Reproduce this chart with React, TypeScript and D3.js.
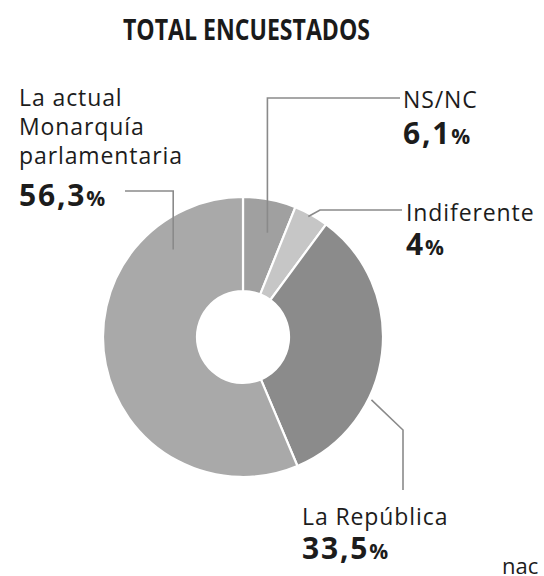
import { useEffect, useRef } from 'react'
import * as d3 from 'd3'

// Survey answers, clockwise from 12 o'clock
const categories = ['NS/NC', 'Indiferente', 'La República', 'La actual Monarquía parlamentaria']
const values = [6.1, 4, 33.5, 56.3]
const valueLabels = ['6,1', '4', '33,5', '56,3']
const labelLines = [['NS/NC'], ['Indiferente'], ['La República'], ['La actual', 'Monarquía', 'parlamentaria']]
const colors = ['#a0a0a0', '#c6c6c6', '#8b8b8b', '#a9a9a9']

const title = 'TOTAL ENCUESTADOS'

export default function App() {
  const svgRef = useRef<SVGSVGElement>(null)

  useEffect(() => {
    if (!svgRef.current) return
    const width = 544
    const height = 576
    const cx = 243
    const cy = 337
    const outerR = 140
    const innerR = 46

    const svg = d3.select(svgRef.current)
      .attr('viewBox', [0, 0, width, height])
      .attr('width', width)
      .attr('height', height)

    svg.selectAll('*').remove()

    svg.append('rect').attr('width', width).attr('height', height).attr('fill', '#fff')

    // Title
    svg.append('text')
      .attr('x', 123)
      .attr('y', 40)
      .attr('textLength', 247)
      .attr('lengthAdjust', 'spacingAndGlyphs')
      .style('font', 'bold 29px "Open Sans", sans-serif')
      .style('fill', '#1a1a1a')
      .text(title)

    const data = categories.map((c, i) => ({ name: c, value: values[i], i }))
    const pie = d3.pie<{ name: string; value: number; i: number }>()
      .sort(null)
      .value(d => d.value)
      .startAngle(0)
      .endAngle(2 * Math.PI)
    const arcs = pie(data)

    const arc = d3.arc<d3.PieArcDatum<{ name: string; value: number; i: number }>>()
      .innerRadius(innerR)
      .outerRadius(outerR)

    const g = svg.append('g').attr('transform', `translate(${cx},${cy})`)
    g.selectAll('path')
      .data(arcs)
      .join('path')
      .attr('d', arc)
      .attr('fill', d => colors[d.data.i])
      .attr('stroke', '#fff')
      .attr('stroke-width', 2.2)

    // polar helper: angle fraction within the slice, radius
    const polar = (k: number, f: number, r: number): [number, number] => {
      const a = arcs[k].startAngle + f * (arcs[k].endAngle - arcs[k].startAngle)
      return [cx + r * Math.sin(a), cy - r * Math.cos(a)]
    }

    const line = d3.line()
    const leaders: [number, number][][] = []
    // NS/NC
    const p0 = polar(0, 0.6, 107)
    leaders.push([p0, [p0[0], 98], [400, 98]])
    // Indiferente
    const p1 = polar(1, 0.45, 137)
    leaders.push([p1, [320, 210], [402, 210]])
    // República
    const p2 = polar(2, 0.66, 143)
    leaders.push([p2, [403, 430], [403, 490]])
    // Monarquía
    const p3 = polar(3, 0.81, 112)
    leaders.push([p3, [p3[0], 191], [125, 191]])

    svg.append('g')
      .selectAll('path')
      .data(leaders)
      .join('path')
      .attr('d', d => line(d))
      .attr('fill', 'none')
      .attr('stroke', '#8a8a8a')
      .attr('stroke-width', 1.6)

    // Labels
    const labelPos: { x: number; y: number[]; py: number }[] = [
      { x: 403, y: [108], py: 144 },
      { x: 406, y: [221], py: 255 },
      { x: 302, y: [525], py: 559 },
      { x: 19, y: [106, 135, 164], py: 206 },
    ]

    const labels = svg.append('g').style('fill', '#1c1c1c')
    labelPos.forEach((p, k) => {
      labelLines[k].forEach((t, j) => {
        labels.append('text')
          .attr('x', p.x)
          .attr('y', p.y[j])
          .style('font', '23px "Open Sans", sans-serif')
          .style('letter-spacing', '0.9px')
          .text(t)
      })
      const pt = labels.append('text')
        .attr('x', p.x)
        .attr('y', p.py)
        .style('font', 'bold 30px "Open Sans", sans-serif')
        .style('letter-spacing', '1.8px')
      pt.append('tspan').text(valueLabels[k])
      pt.append('tspan').style('font-size', '21px').style('letter-spacing', '0').text('%')
    })

    svg.append('text')
      .attr('x', 502)
      .attr('y', 574)
      .style('font', '22px "Open Sans", sans-serif')
      .style('fill', '#1c1c1c')
      .text('nac')
  }, [])

  return <svg ref={svgRef} style={{ position: 'absolute', left: 0, top: 0, display: 'block' }} />
}
